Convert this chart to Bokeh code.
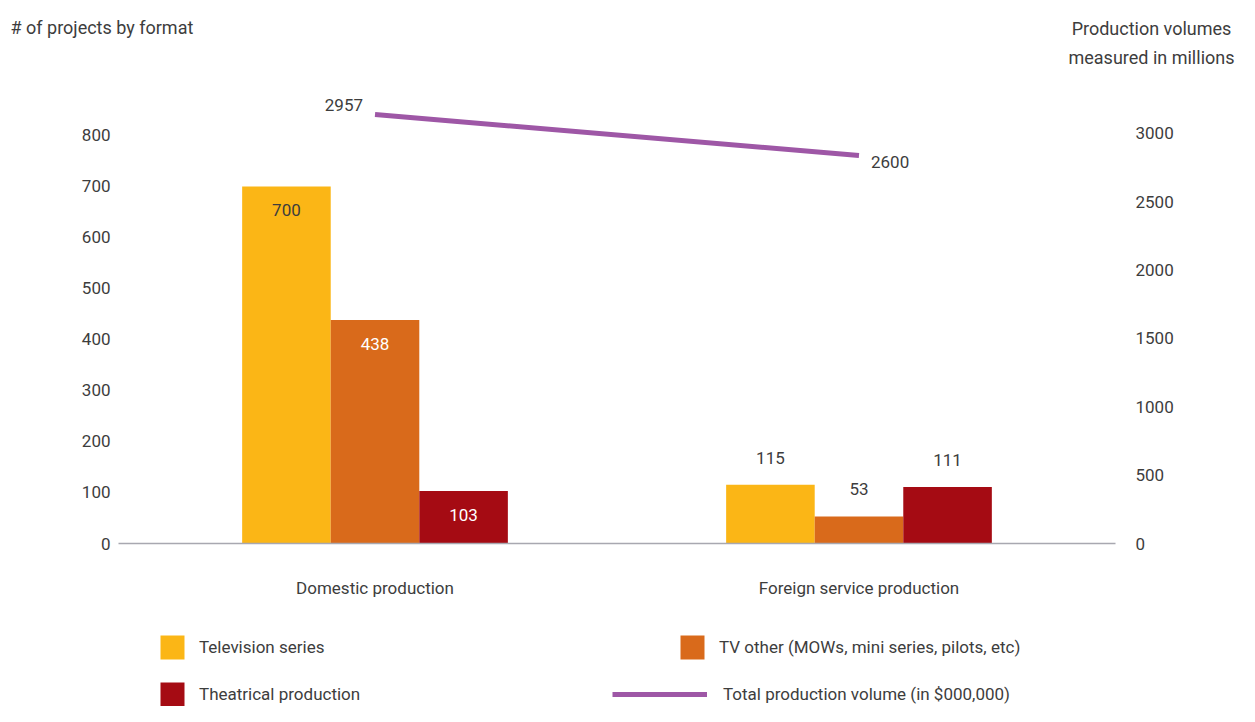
from bokeh.plotting import figure
from bokeh.layouts import column
from bokeh.models import (ColumnDataSource, FactorRange, Range1d, LinearAxis,
                          Legend, LegendItem, Label, FixedTicker)
from bokeh.transform import dodge
from bokeh.core.properties import value
from bokeh.embed import file_html
from bokeh.resources import INLINE

# ---------------- data ----------------
groups = ["Domestic production", "Foreign service production"]
tv_series = [700, 115]
tv_other = [438, 53]
theatrical = [103, 111]
total_volume = [2957, 2600]
left_ticks = [0, 100, 200, 300, 400, 500, 600, 700, 800]
right_ticks = [0, 500, 1000, 1500, 2000, 2500, 3000]
series_names = ["Television series",
                "TV other (MOWs, mini series, pilots, etc)",
                "Theatrical production"]
line_name = "Total production volume (in $000,000)"
left_title = "# of projects by format"
right_title = ["Production volumes", "measured in millions"]

# ---------------- style ----------------
FONT = "Roboto"
TXT = "#3d3d3d"
colors = ["#FBB616", "#D96A1B", "#A50B13"]
LINE_COLOR = "#9E57A6"
FS = "17px"
TFS = "18px"
W_TOTAL = 1239
NAN = float("nan")


def blank_fig(h, yr):
    f = figure(width=W_TOTAL, height=h, x_range=Range1d(0, W_TOTAL), y_range=yr,
               output_backend="svg", toolbar_location=None,
               x_axis_location=None, y_axis_location=None,
               min_border=0, outline_line_color=None, frame_align=False)
    f.xgrid.grid_line_color = None
    f.ygrid.grid_line_color = None
    return f


# ---------------- header (axis titles) ----------------
header = blank_fig(88, Range1d(88, 0))
header.add_layout(Label(x=10, y=27, text=left_title, text_align="left",
                        text_baseline="middle", text_font=FONT,
                        text_font_size=TFS, text_color=TXT))
for i, t in enumerate(right_title):
    header.add_layout(Label(x=1151, y=28 + 29 * i, text=t, text_align="center",
                            text_baseline="middle", text_font=FONT,
                            text_font_size=TFS, text_color=TXT))

# ---------------- main chart ----------------
p = figure(width=W_TOTAL, height=532,
           x_range=FactorRange(factors=groups, range_padding=0.03,
                               range_padding_units="absolute"),
           y_range=Range1d(0, 892),
           output_backend="svg", toolbar_location=None,
           min_border_left=118, min_border_right=124,
           min_border_top=0, min_border_bottom=77,
           outline_line_color=None, background_fill_color="white",
           frame_align=False)
p.extra_y_ranges = {"vol": Range1d(0, 3329), "line": Range1d(-778, 3183)}
p.xgrid.grid_line_color = None
p.ygrid.grid_line_color = None

xa = p.xaxis[0]
xa.axis_line_color = "#a8a8b0"
xa.axis_line_width = 1.5
xa.major_tick_line_color = None
xa.minor_tick_line_color = None
xa.major_tick_out = 0
xa.major_label_standoff = 34
xa.major_label_text_font = FONT
xa.major_label_text_font_size = FS
xa.major_label_text_color = TXT

ya = p.yaxis[0]
ya.ticker = FixedTicker(ticks=left_ticks)
ya.axis_line_color = None
ya.major_tick_line_color = None
ya.minor_tick_line_color = None
ya.major_tick_out = 0
ya.minor_tick_out = 0
ya.major_label_standoff = 8
ya.major_label_text_font = FONT
ya.major_label_text_font_size = FS
ya.major_label_text_color = TXT

ra = LinearAxis(y_range_name="vol", ticker=FixedTicker(ticks=right_ticks))
ra.axis_line_color = None
ra.major_tick_line_color = None
ra.minor_tick_line_color = None
ra.major_tick_out = 0
ra.minor_tick_out = 0
ra.major_label_standoff = 20
ra.major_label_text_font = FONT
ra.major_label_text_font_size = FS
ra.major_label_text_color = TXT
p.add_layout(ra, "right")

W = 0.183
offsets = [-W, 0.0, W]
series_vals = [tv_series, tv_other, theatrical]
for name, vals, col, off in zip(series_names, series_vals, colors, offsets):
    inside = [g == groups[0] for g in groups]
    src = ColumnDataSource(dict(
        group=groups, val=vals, lab=[str(v) for v in vals],
        yoff=[24 if i else -27 for i in inside],
        tcol=[("white" if col != colors[0] else TXT) if i else TXT for i in inside],
    ))
    p.vbar(x=dodge("group", off, range=p.x_range), top="val", width=W,
           source=src, fill_color=col, line_color=None)
    p.text(x=dodge("group", off, range=p.x_range), y="val", text="lab",
           source=src, y_offset="yoff", text_color="tcol",
           text_align="center", text_baseline="middle",
           text_font=value(FONT), text_font_size=FS)

lsrc = ColumnDataSource(dict(group=groups, vol=total_volume,
                             lab=[str(v) for v in total_volume],
                             xoff=[-12, 12], yoff=[-9, 7],
                             align=["right", "left"]))
p.line(x="group", y="vol", source=lsrc, y_range_name="line",
       line_color=LINE_COLOR, line_width=5)
p.text(x="group", y="vol", text="lab", source=lsrc, y_range_name="line",
       x_offset="xoff", y_offset="yoff", text_align="align",
       text_baseline="middle", text_color=TXT,
       text_font=value(FONT), text_font_size=FS)

# ---------------- legend strip ----------------
LH = 86
leg = blank_fig(LH, Range1d(0, LH))
swatches = []
for col in colors:
    swatches.append(leg.vbar(x=[NAN], top=[NAN], width=1,
                             fill_color=col, line_color=None))
line_sw = leg.line(x=[NAN, NAN], y=[NAN, NAN], line_color=LINE_COLOR, line_width=5)


def make_legend(label, rend, loc, gw, standoff):
    lg = Legend(items=[LegendItem(label=label, renderers=[rend])],
                location=loc, glyph_width=gw, glyph_height=30,
                label_standoff=standoff, padding=0, margin=0, spacing=0,
                border_line_color=None, background_fill_alpha=0,
                label_text_font=FONT, label_text_font_size=FS,
                label_text_color=TXT, label_height=30)
    leg.add_layout(lg, "center")


make_legend(series_names[0], swatches[0], (157, 44), 30, 12)
make_legend(series_names[1], swatches[1], (677, 44), 30, 12)
make_legend(series_names[2], swatches[2], (157, -3), 30, 12)
make_legend(line_name, line_sw, (612, -3), 95, 16)

layout = column(header, p, leg, spacing=0)
open("out.html", "w").write(file_html(layout, INLINE))
